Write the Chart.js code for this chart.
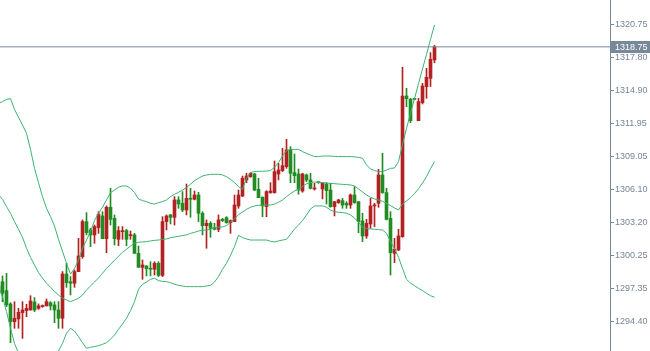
<!DOCTYPE html>
<html>
<head>
<meta charset="utf-8">
<title>XAUUSD M-chart with Bollinger Bands</title>
<script src="https://cdn.jsdelivr.net/npm/chart.js@4.4.1/dist/chart.umd.min.js"></script>
<style>
  html, body { margin: 0; padding: 0; background: #ffffff; }
  canvas { display: block; }
</style>
</head>
<body>
<canvas id="chart" width="650" height="351"></canvas>
<script>
// candle values, oldest first (index 0 is cut by the left edge)
const opens = [
  1297.57, 1297.95, 1297.16, 1295.98, 1294.41, 1294.65, 1295.21, 1295.39, 1295.44, 1296.15,
  1295.59, 1295.74, 1295.80, 1296.09, 1295.89, 1295.44, 1294.71, 1298.63, 1297.95, 1297.81,
  1298.84, 1300.17, 1303.27, 1302.53, 1302.09, 1302.74, 1303.77, 1301.76, 1304.54, 1303.56,
  1301.70, 1302.38, 1302.47, 1302.03, 1302.09, 1300.46, 1299.22, 1299.34, 1299.13, 1299.05,
  1299.58, 1298.51, 1303.27, 1303.86, 1303.65, 1305.19, 1304.89, 1304.30, 1305.33, 1305.25,
  1305.63, 1304.01, 1302.91, 1303.12, 1302.74, 1302.59, 1303.47, 1303.62, 1303.18, 1303.27,
  1304.66, 1305.54, 1306.96, 1307.25, 1307.49, 1306.13, 1305.42, 1304.60, 1305.84, 1305.84,
  1307.49, 1307.79, 1308.14, 1309.62, 1307.61, 1307.49, 1305.98, 1307.40, 1306.96, 1306.16,
  1306.72, 1306.16, 1306.60, 1306.07, 1304.60, 1304.95, 1305.13, 1304.89, 1304.74, 1305.63,
  1305.04, 1303.33, 1302.00, 1303.06, 1304.66, 1304.89, 1307.40, 1305.84, 1303.56, 1300.46,
  1300.76, 1301.94, 1314.40, 1314.10, 1314.12, 1312.21, 1313.81, 1315.23, 1315.96, 1317.59
];
const highs = [
  1297.81, 1298.46, 1298.69, 1296.09, 1296.18, 1295.59, 1296.18, 1295.95, 1296.71, 1296.54,
  1295.98, 1295.89, 1296.42, 1296.18, 1296.18, 1296.18, 1298.84, 1299.58, 1298.40, 1298.99,
  1301.79, 1303.42, 1304.07, 1302.68, 1302.97, 1304.15, 1304.15, 1304.66, 1306.22, 1303.86,
  1302.83, 1302.83, 1302.59, 1302.44, 1302.23, 1301.11, 1299.87, 1299.37, 1299.72, 1299.72,
  1299.72, 1303.71, 1303.86, 1303.92, 1305.48, 1305.48, 1305.93, 1306.60, 1306.22, 1305.98,
  1305.87, 1304.15, 1303.42, 1303.27, 1303.12, 1303.86, 1303.56, 1303.71, 1303.42, 1305.63,
  1306.07, 1307.31, 1307.55, 1307.61, 1307.55, 1307.11, 1305.48, 1306.01, 1306.72, 1308.64,
  1308.43, 1309.76, 1310.56, 1309.91, 1309.26, 1307.93, 1307.55, 1307.49, 1307.55, 1306.66,
  1306.78, 1306.72, 1306.72, 1306.66, 1305.04, 1305.25, 1305.33, 1305.04, 1305.72, 1306.37,
  1305.04, 1304.01, 1303.47, 1305.33, 1304.89, 1307.90, 1309.32, 1306.22, 1304.15, 1301.79,
  1302.59, 1316.94, 1315.08, 1314.19, 1314.19, 1314.19, 1315.52, 1316.85, 1318.24, 1318.89
];
const lows = [
  1296.92, 1296.18, 1295.74, 1292.55, 1293.82, 1293.82, 1292.93, 1294.85, 1295.44, 1295.30,
  1295.50, 1295.68, 1295.80, 1295.44, 1294.32, 1293.82, 1293.82, 1297.45, 1296.77, 1297.45,
  1298.84, 1300.02, 1302.09, 1301.05, 1301.35, 1302.23, 1301.76, 1300.52, 1302.97, 1301.20,
  1301.14, 1301.70, 1301.14, 1301.70, 1300.46, 1299.22, 1298.16, 1298.46, 1298.46, 1298.54,
  1298.40, 1298.40, 1302.53, 1303.06, 1302.97, 1304.45, 1304.15, 1303.86, 1303.65, 1305.19,
  1303.27, 1302.09, 1300.91, 1301.88, 1302.53, 1302.38, 1303.27, 1303.12, 1302.23, 1303.27,
  1304.45, 1305.48, 1306.72, 1307.19, 1306.01, 1305.39, 1303.71, 1303.71, 1305.78, 1305.78,
  1306.96, 1307.70, 1307.99, 1306.72, 1306.72, 1305.69, 1305.87, 1306.81, 1306.16, 1306.07,
  1306.66, 1305.28, 1304.83, 1304.54, 1303.77, 1304.89, 1304.45, 1304.45, 1304.45, 1304.89,
  1302.29, 1301.50, 1301.79, 1302.68, 1302.83, 1304.54, 1305.78, 1303.42, 1298.54, 1299.64,
  1300.70, 1301.88, 1313.45, 1312.04, 1314.04, 1312.21, 1313.69, 1314.19, 1315.23, 1317.35
];
const closes = [
  1297.16, 1296.92, 1295.89, 1294.41, 1294.71, 1295.24, 1295.44, 1295.59, 1296.24, 1295.44,
  1295.80, 1295.80, 1296.18, 1295.80, 1295.44, 1294.71, 1298.63, 1297.86, 1297.81, 1298.84,
  1300.23, 1303.27, 1302.29, 1302.09, 1302.83, 1303.92, 1301.76, 1304.54, 1303.47, 1301.76,
  1302.47, 1302.47, 1301.70, 1302.09, 1300.46, 1299.22, 1299.43, 1299.10, 1299.05, 1299.58,
  1298.51, 1303.27, 1303.77, 1303.65, 1305.19, 1304.83, 1304.30, 1305.33, 1305.25, 1305.63,
  1304.01, 1302.91, 1303.12, 1302.68, 1302.59, 1303.42, 1303.36, 1303.18, 1303.36, 1304.74,
  1305.63, 1307.11, 1307.31, 1307.55, 1306.07, 1305.39, 1304.66, 1305.93, 1305.98, 1307.70,
  1307.84, 1308.23, 1309.62, 1307.55, 1307.34, 1306.07, 1307.49, 1306.96, 1306.22, 1306.22,
  1306.72, 1306.66, 1306.01, 1304.60, 1305.04, 1305.19, 1304.74, 1304.74, 1305.63, 1304.95,
  1303.27, 1302.00, 1303.12, 1304.66, 1304.74, 1307.40, 1305.84, 1303.47, 1300.52, 1300.82,
  1302.00, 1314.40, 1314.16, 1312.21, 1314.10, 1313.90, 1315.28, 1316.05, 1317.65, 1318.75
];

// bollinger bands, one value per candle
const upperBand = [
  1313.75, 1313.90, 1314.10, 1314.16, 1313.22, 1312.51, 1311.83, 1311.09, 1309.67, 1307.99,
  1306.72, 1305.48, 1304.45, 1303.71, 1302.88, 1301.70, 1300.64, 1299.58, 1298.63, 1299.13,
  1299.87, 1300.91, 1301.64, 1302.38, 1303.36, 1304.01, 1304.54, 1305.19, 1305.84, 1306.07,
  1306.31, 1306.43, 1306.43, 1306.22, 1305.84, 1305.28, 1305.13, 1305.04, 1304.89, 1304.83,
  1304.95, 1305.04, 1305.19, 1305.48, 1305.69, 1305.87, 1306.07, 1306.28, 1306.58, 1306.90,
  1307.11, 1307.31, 1307.40, 1307.46, 1307.46, 1307.46, 1307.40, 1307.25, 1307.02, 1306.72,
  1306.37, 1306.13, 1307.11, 1307.61, 1307.70, 1307.73, 1307.73, 1307.75, 1307.79, 1308.08,
  1308.49, 1309.08, 1309.56, 1309.67, 1309.67, 1309.67, 1309.47, 1309.32, 1309.17, 1309.03,
  1309.03, 1309.08, 1309.08, 1309.08, 1309.05, 1309.03, 1309.03, 1309.03, 1309.03, 1309.00,
  1308.97, 1308.88, 1308.29, 1307.93, 1307.79, 1307.70, 1307.70, 1307.84, 1307.99, 1308.02,
  1308.58, 1310.10, 1311.53, 1312.86, 1314.16, 1315.49, 1316.79, 1318.09, 1319.42, 1320.69
];
const middleBand = [
  1305.63, 1305.25, 1304.60, 1304.01, 1303.27, 1302.59, 1301.88, 1300.91, 1300.11, 1299.43,
  1298.75, 1298.25, 1297.81, 1297.45, 1297.07, 1296.77, 1296.48, 1296.33, 1296.18, 1296.33,
  1296.48, 1296.77, 1297.22, 1297.57, 1297.92, 1298.28, 1298.69, 1299.13, 1299.49, 1299.84,
  1300.20, 1300.55, 1300.82, 1301.11, 1301.35, 1301.44, 1301.47, 1301.50, 1301.56, 1301.61,
  1301.64, 1301.70, 1301.73, 1301.85, 1301.91, 1301.97, 1302.03, 1302.09, 1302.23, 1302.32,
  1302.44, 1302.50, 1302.53, 1302.59, 1302.71, 1302.78, 1302.80, 1302.91, 1303.21, 1303.50,
  1303.89, 1304.12, 1304.36, 1304.54, 1304.66, 1304.72, 1304.72, 1304.74, 1304.74, 1304.83,
  1304.98, 1305.19, 1305.48, 1305.75, 1305.98, 1306.16, 1306.37, 1306.63, 1306.72, 1306.78,
  1306.75, 1306.72, 1306.69, 1306.66, 1306.63, 1306.60, 1306.57, 1306.55, 1306.52, 1306.43,
  1306.16, 1305.90, 1305.63, 1305.42, 1305.28, 1305.19, 1305.07, 1304.89, 1304.69, 1304.48,
  1304.30, 1304.83, 1305.10, 1305.39, 1305.75, 1306.19, 1306.69, 1307.25, 1307.96, 1308.58
];
const lowerBand = [
  1297.51, 1296.60, 1295.30, 1293.82, 1292.49, 1291.61, 1291.31, 1290.72, 1290.54, 1290.87,
  1290.78, 1291.02, 1291.16, 1291.19, 1291.25, 1291.81, 1292.49, 1293.38, 1293.82, 1293.58,
  1293.08, 1292.55, 1292.05, 1292.14, 1292.20, 1292.28, 1292.40, 1292.55, 1292.85, 1293.23,
  1293.73, 1294.20, 1294.71, 1295.39, 1296.18, 1297.27, 1297.72, 1297.92, 1298.16, 1298.25,
  1298.04, 1297.98, 1297.95, 1297.86, 1297.72, 1297.63, 1297.57, 1297.51, 1297.51, 1297.51,
  1297.51, 1297.51, 1297.57, 1297.63, 1297.92, 1298.40, 1299.05, 1299.58, 1300.29, 1301.05,
  1302.06, 1301.85, 1301.73, 1301.64, 1301.64, 1301.64, 1301.64, 1301.64, 1301.53, 1301.47,
  1301.56, 1301.64, 1301.70, 1302.15, 1302.62, 1302.97, 1303.36, 1303.86, 1304.39, 1304.66,
  1304.66, 1304.66, 1304.54, 1304.30, 1304.15, 1304.10, 1304.07, 1304.01, 1303.86, 1303.59,
  1303.21, 1302.77, 1302.65, 1302.62, 1302.59, 1302.56, 1302.53, 1302.23, 1301.50, 1300.88,
  1300.11, 1299.13, 1298.16, 1297.81, 1297.60, 1297.36, 1297.16, 1296.92, 1296.71, 1296.57
];

const yTicks = [1320.75, 1317.80, 1314.90, 1311.95, 1309.05, 1306.10, 1303.20, 1300.25, 1297.35, 1294.40];
const lastPrice = 1318.75;

// visible window: candle index on x, price on y
const xMin = 0.375, xMax = 152.875;
const yMin = 1291.81, yMax = 1322.90;

const UP = '#b22222';
const DOWN = '#228b22';
const BAND = '#3cb371';
const AXIS = '#778899';
const LABEL = '#76869a';

const isUp = closes.map((c, i) => c > opens[i]);
const candleColor = ctx => isUp[ctx.dataIndex] ? UP : DOWN;

const wicks = closes.map((c, i) => ({ x: i, y: [lows[i], highs[i]] }));
const bodies = closes.map((c, i) => ({ x: i, y: [Math.min(opens[i], c), Math.max(opens[i], c)] }));
const toPoints = arr => arr.map((v, i) => ({ x: i, y: v }));

function bandLine(values) {
    return {
        type: 'line',
        data: toPoints(values),
        borderColor: BAND,
        borderWidth: 1,
        pointRadius: 0,
        tension: 0,
        order: 1
    };
}

// grey box with the last price on the right axis
const priceLabel = {
    id: 'priceLabel',
    afterDraw(chart) {
        const { ctx, chartArea } = chart;
        const py = Math.round(chart.scales.y.getPixelForValue(lastPrice));
        ctx.save();
        ctx.fillStyle = AXIS;
        ctx.fillRect(chartArea.right + 1, py - 6, chart.width - chartArea.right - 1, 12);
        ctx.fillStyle = '#ffffff';
        ctx.font = '9px "Liberation Sans", Arial, sans-serif';
        ctx.textBaseline = 'middle';
        ctx.fillText(lastPrice.toFixed(2), chartArea.right + 5, py + 0.5);
        ctx.restore();
    }
};

new Chart(document.getElementById('chart'), {
    data: {
        datasets: [
            {
                type: 'line',
                data: [{ x: xMin, y: lastPrice }, { x: xMax, y: lastPrice }],
                borderColor: AXIS,
                borderWidth: 1,
                pointRadius: 0,
                order: 0
            },
            bandLine(upperBand),
            bandLine(middleBand),
            bandLine(lowerBand),
            {
                type: 'bar',
                data: bodies,
                backgroundColor: candleColor,
                barThickness: 3,
                minBarLength: 1,
                grouped: false,
                order: 2
            },
            {
                type: 'bar',
                data: wicks,
                backgroundColor: candleColor,
                barThickness: 1,
                minBarLength: 1,
                grouped: false,
                order: 3
            }
        ]
    },
    options: {
        responsive: false,
        devicePixelRatio: 1,
        animation: false,
        layout: { padding: 0 },
        plugins: {
            legend: { display: false },
            tooltip: { enabled: false }
        },
        scales: {
            x: {
                type: 'linear',
                min: xMin,
                max: xMax,
                offset: false,
                grid: { offset: false },
                display: false
            },
            y: {
                type: 'linear',
                position: 'right',
                min: yMin,
                max: yMax,
                afterBuildTicks: scale => {
                    scale.ticks = yTicks.map(v => ({ value: v }));
                },
                afterFit: scale => {
                    scale.width = 40;
                    scale.paddingTop = 0;
                    scale.paddingBottom = 0;
                },
                ticks: {
                    autoSkip: false,
                    padding: 1,
                    color: LABEL,
                    font: { family: '"Liberation Sans", Arial, sans-serif', size: 9 },
                    callback: v => Number(v).toFixed(2)
                },
                grid: {
                    drawOnChartArea: false,
                    drawTicks: true,
                    tickLength: 4,
                    color: AXIS
                },
                border: { display: true, color: AXIS, width: 1 }
            }
        }
    },
    plugins: [priceLabel]
});
</script>
</body>
</html>
